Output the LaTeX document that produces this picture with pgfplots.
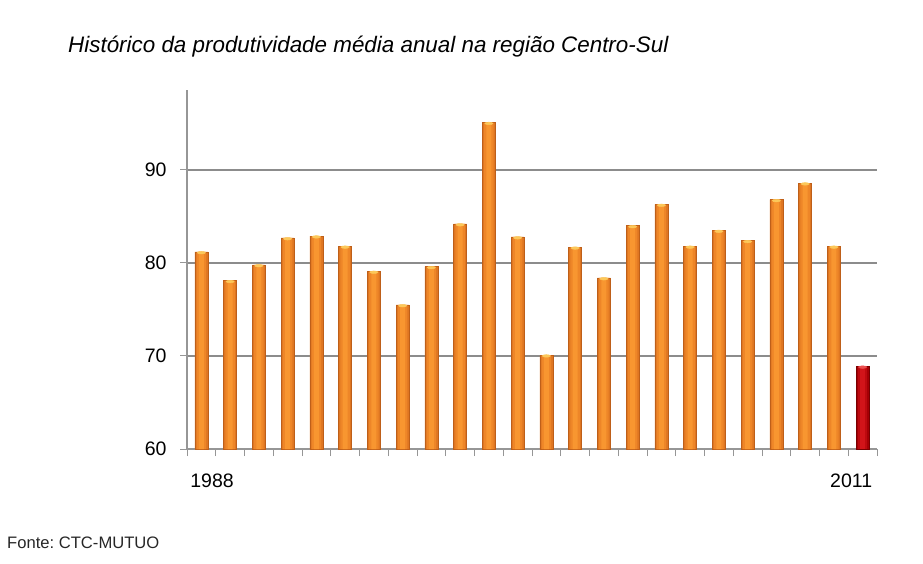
\documentclass[border=0pt]{standalone}
\usepackage{pgfplots}
\pgfplotsset{compat=1.18}
\usepackage{fontspec}
\setmainfont{Liberation Sans}
\frenchspacing
\definecolor{gridgray}{RGB}{140,140,140}
\definecolor{axgray}{RGB}{150,150,150}
\definecolor{orEdge}{RGB}{190,95,25}
\definecolor{orSide}{RGB}{222,118,34}
\definecolor{orIn}{RGB}{238,134,40}
\definecolor{orMid}{RGB}{248,150,48}
\definecolor{orCap}{RGB}{252,200,90}
\definecolor{rdEdge}{RGB}{120,0,0}
\definecolor{rdSide}{RGB}{165,0,5}
\definecolor{rdIn}{RGB}{190,10,15}
\definecolor{rdMid}{RGB}{210,20,25}
\definecolor{rdCap}{RGB}{235,80,80}
\pgfplotstableread{
x y
1 81.2
2 78.1
3 79.8
4 82.7
5 82.9
6 81.8
7 79.1
8 75.5
9 79.6
10 84.2
11 95.1
12 82.8
13 70.1
14 81.7
15 78.4
16 84.0
17 86.3
18 81.8
19 83.5
20 82.4
21 86.8
22 88.6
23 81.8
}\orangedata
\pgfplotstableread{
x y
24 68.9
}\reddata
\begin{document}
\begin{tikzpicture}[x=1pt,y=1pt]
\path (0,0) rectangle (923,563);
\node[anchor=west,font=\fontsize{22.4}{26}\selectfont\itshape,inner sep=0pt] at (68,516) {Histórico da produtividade média anual na região Centro-Sul};
\node[anchor=west,font=\fontsize{16.6}{20}\selectfont,text=black!85,inner sep=0pt] at (7,20) {Fonte: CTC-MUTUO};
\begin{axis}[
  at={(187pt,114pt)}, anchor=south west,
  scale only axis, width=690pt, height=359pt,
  xmin=0.5, xmax=24.5, ymin=60, ymax=98.6,
  axis lines*=left,
  axis line style={axgray, line width=1.2pt},
  ytick={60,70,80,90},
  ymajorgrids, grid style={gridgray, line width=1.2pt},
  xtick={0.5,1.5,...,24.5}, xticklabels={},
  extra x ticks={1.37,23.6}, extra x tick labels={1988,2011},
  extra x tick style={major tick length=0pt, grid=none, tick label style={yshift=-21pt}},
  tick align=outside, major tick length=7pt,
  tick style={axgray, line width=1pt},
  /pgf/number format/assume math mode=true,
  tick label style={font=\fontsize{19.5}{22}\selectfont, text=black},
  yticklabel style={xshift=-10pt},
  clip=true,
]
\addplot[ybar, bar width=13pt, bar shift=0pt, draw=orEdge, line width=0.6pt, fill=orSide] table[x=x,y=y] {\orangedata};
\addplot[ybar, bar width=9.5pt, bar shift=0pt, draw=none, fill=orIn] table[x=x,y=y] {\orangedata};
\addplot[ybar, bar width=5pt, bar shift=0pt, draw=none, fill=orMid] table[x=x,y=y] {\orangedata};
\addplot[color=orCap, only marks, mark=*, mark size=2.4pt, mark options={draw=orCap, fill=orCap, xscale=1.7, yscale=0.55, yshift=-1.6pt}] table[x=x,y=y] {\orangedata};
\addplot[ybar, bar width=13pt, bar shift=0pt, draw=rdEdge, line width=0.6pt, fill=rdSide] table[x=x,y=y] {\reddata};
\addplot[ybar, bar width=9.5pt, bar shift=0pt, draw=none, fill=rdIn] table[x=x,y=y] {\reddata};
\addplot[ybar, bar width=5pt, bar shift=0pt, draw=none, fill=rdMid] table[x=x,y=y] {\reddata};
\addplot[color=rdCap, only marks, mark=*, mark size=2.4pt, mark options={draw=rdCap, fill=rdCap, xscale=1.7, yscale=0.55, yshift=-1.6pt}] table[x=x,y=y] {\reddata};
\end{axis}
\end{tikzpicture}
\end{document}
